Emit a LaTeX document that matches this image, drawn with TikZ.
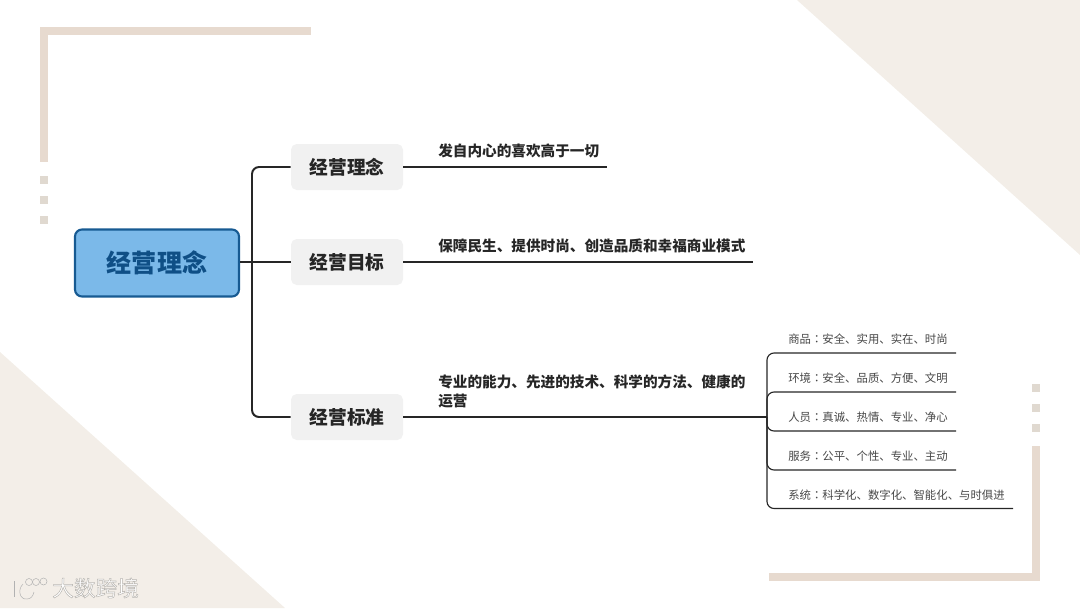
\documentclass[tikz,border=0pt]{standalone}
\usepackage{fontspec}
\setmainfont{Noto Sans CJK SC}
\newfontfamily\tcfont{Noto Sans CJK TC}
\usetikzlibrary{arrows.meta}
\definecolor{bgtint}{HTML}{F3EEE8}
\definecolor{framecol}{HTML}{E7DACF}
\definecolor{dotcol}{HTML}{E0D9D0}
\definecolor{rootfill}{HTML}{7BB9E9}
\definecolor{rootedge}{HTML}{175A92}
\definecolor{rootink}{HTML}{0F4F86}
\definecolor{branchfill}{HTML}{F1F1F1}
\definecolor{inkcol}{HTML}{262626}
\newcommand{\outlined}[1]{\special{pdf:code q 2 Tr 0.35 w 0.72 0.71 0.69 RG 1 1 1 rg}#1\special{pdf:code Q}}
\tikzset{
  rootbox/.style={draw=rootedge, line width=1.5pt, fill=rootfill, rounded corners=5pt, minimum width=164*0.025cm, minimum height=67*0.025cm, inner sep=0pt, text=rootink, font=\fontsize{17.8}{20}\selectfont\bfseries},
  branchbox/.style={fill=branchfill, rounded corners=4pt, minimum width=112*0.025cm, minimum height=46*0.025cm, inner sep=0pt, text=inkcol, font=\fontsize{13.3}{16}\selectfont\bfseries},
  leaflabel/.style={anchor=west, inner sep=0pt, align=left, text=inkcol, font=\fontsize{10.4}{13.5}\selectfont\bfseries},
  smalllabel/.style={anchor=west, inner sep=0pt, text=inkcol!85, font=\fontsize{8.1}{10}\selectfont},
  mainline/.style={line width=1.4pt, draw=inkcol},
  thinline/.style={line width=0.8pt, draw=inkcol},
}
\begin{document}
\begin{tikzpicture}[x=0.025cm, y=-0.025cm]
\useasboundingbox (0,0) rectangle (1080,608);

% --- Background corners ---
\fill[bgtint] (797,0) -- (1080,255) -- (1080,0) -- cycle;
\fill[bgtint] (0,352) -- (285,608) -- (0,608) -- cycle;

% --- Frame pieces ---
\fill[framecol] (40,27) rectangle (311,35);
\fill[framecol] (40,27) rectangle (48,162);
\fill[framecol] (769,573) rectangle (1040,581);
\fill[framecol] (1032,446) rectangle (1040,581);
\foreach \y in {176,196,216} \fill[dotcol] (40,\y) rectangle (48,\y+8);
\foreach \y in {384,404,424} \fill[dotcol] (1032,\y) rectangle (1040,\y+8);

% --- Nodes ---
\node[rootbox] (root) at (157,263) {经营理念};
\node[branchbox] (idea) at (347,167) {经营理念};
\node[branchbox] (goal) at (347,262) {经营目标};
\node[branchbox] (norm) at (347,417) {经营标准};

\node[leaflabel] (ideatext) at (438,151) {发自内心的喜欢高于一切};
\node[leaflabel] (goaltext) at (438,246) {保障民生、提供时尚、创造品质和幸福商业模式};
\node[leaflabel] (normtext) at (438,391) {专业的能力、先进的技术、科学的方法、健康的\\运营};

\node[smalllabel] (goods) at (788,339) {商品{\tcfont：}安全、实用、实在、时尚};
\node[smalllabel] (place) at (788,378) {环境{\tcfont：}安全、品质、方便、文明};
\node[smalllabel] (staff) at (788,417) {人员{\tcfont：}真诚、热情、专业、净心};
\node[smalllabel] (serve) at (788,456) {服务{\tcfont：}公平、个性、专业、主动};
\node[smalllabel] (systm) at (788,495) {系统{\tcfont：}科学化、数字化、智能化、与时俱进};

% --- Free ends of the lines ---
\coordinate (trunk) at (252,262);
\coordinate (ideaend) at (607,167);
\coordinate (goalend) at (753,262);
\coordinate (normend) at (754,417);
\coordinate (hub) at (767,417);
\coordinate (goodsend) at (956,353);
\coordinate (placeend) at (956,392);
\coordinate (staffend) at (956,431);
\coordinate (serveend) at (956,470);
\coordinate (systmend) at (1013,508.5);

% --- Connectors ---
\draw[mainline] (root.east |- goal.west) -- (goal.west);
\draw[mainline, rounded corners=5pt] (trunk) |- (idea.west);
\draw[mainline, rounded corners=5pt] (trunk) |- (norm.west);
\draw[mainline] (idea.east) -- (ideaend);
\draw[mainline] (goal.east) -- (goalend);
\draw[mainline] (norm.east) -- (normend);
\draw[thinline] (normend) -- (hub);
\foreach \e in {goodsend,placeend,staffend,serveend,systmend}
  \draw[thinline, rounded corners=5pt] (hub) |- (\e);

% --- Watermark ---
\begin{scope}[double=white, draw=black!30, line width=0.35pt, double distance=1.9pt]
  \draw (14.5,581) -- (14.5,597);
  \draw (23,584) .. controls (17,590) and (20,600) .. (27,599) .. controls (31,599) and (33,596) .. (34,592);
  \draw (29,582) circle (3.5);
  \draw (36,582) circle (3.5);
  \draw (43.5,581.5) circle (3.5);
\end{scope}
\node[inner sep=0pt, anchor=west, font=\fontsize{15.4}{18}\selectfont] (mark) at (52,588) {\outlined{大数跨境}};
\end{tikzpicture}
\end{document}
